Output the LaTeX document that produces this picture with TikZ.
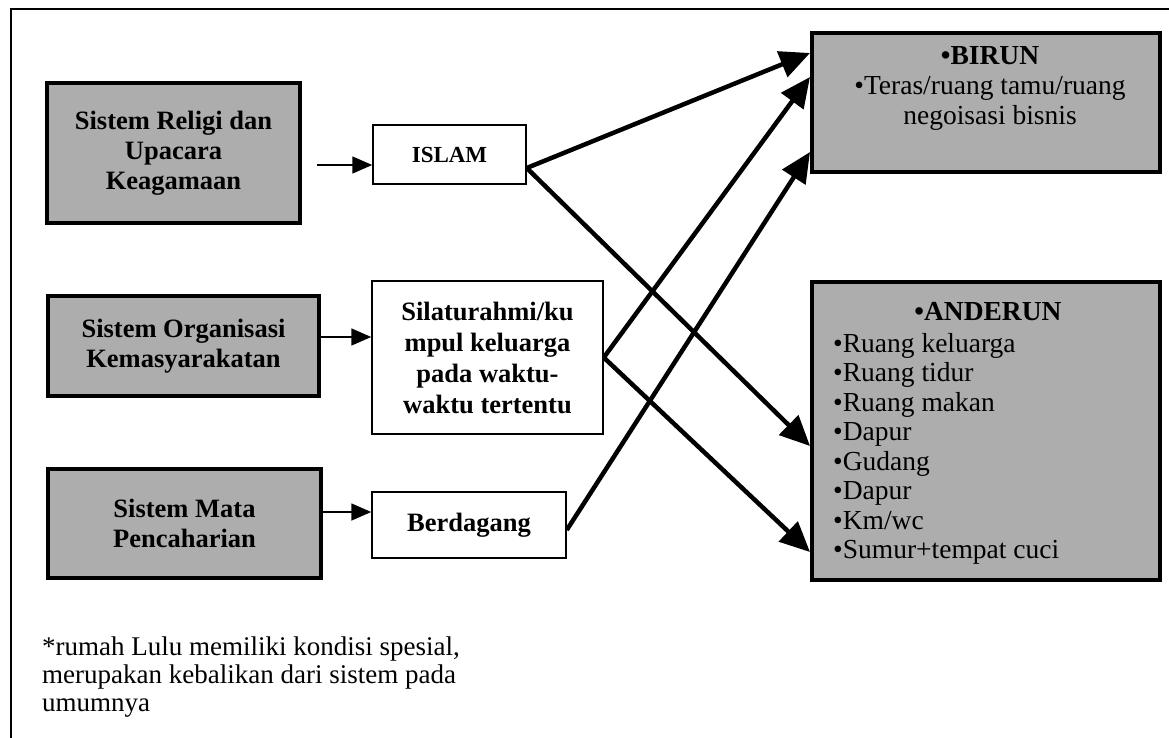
\documentclass[tikz,border=0pt]{standalone}
\usepackage{fontspec}
\setmainfont{Liberation Serif}
\usetikzlibrary{arrows.meta}
\begin{document}
\begin{tikzpicture}[x=1pt,y=-1pt,
    sistem/.style={draw,line width=4pt,fill=black!32,inner sep=0pt,align=center,font=\fontsize{26.5}{30}\selectfont\bfseries},
    nilai/.style={draw,line width=1.5pt,fill=white,inner sep=0pt,align=center,font=\fontsize{26.5}{31}\selectfont\bfseries},
    ruang/.style={draw,line width=4pt,fill=black!32,inner sep=0pt,minimum width=348},
    isi/.style={inner sep=0pt,font=\fontsize{27.5}{29.5}\selectfont},
    tipis/.style={line width=1.6pt,-{Triangle[length=20pt,width=17pt]}},
    tebal/.style={line width=4.5pt,-{Triangle[length=30pt,width=27pt]}}]
    \useasboundingbox (0,0) rectangle (1169,738);
    \draw[line width=2pt] (11,738) -- (11,9) -- (1169,9);
    % aspek budaya
    \node[sistem,minimum width=253,minimum height=140] (religi) at (173.5,153) {Sistem Religi dan\\Upacara\\Keagamaan};
    \node[sistem,minimum width=271,minimum height=100] (organisasi) at (183.5,346) {Sistem Organisasi\\Kemasyarakatan};
    \node[sistem,minimum width=273,minimum height=109] (mata) at (184.5,523.5) {Sistem Mata\\Pencaharian};
    % wujud
    \node[nilai,minimum width=153,minimum height=59,font=\fontsize{23}{28}\selectfont\bfseries] (islam) at (449.5,154.5) {ISLAM};
    \node[nilai,minimum width=231,minimum height=153] (silaturahmi) at (487.5,357.5) {Silaturahmi/ku\\mpul keluarga\\pada waktu-\\waktu tertentu};
    \node[nilai,minimum width=194,minimum height=66] (berdagang) at (469,525) {Berdagang};
    % ruang
    \node[ruang,minimum height=139] (birun) at (986,102.5) {};
    \node[isi,align=center,font=\fontsize{27.5}{30}\selectfont] (biruntext) at (990,88) {\textbf{•BIRUN}\\•Teras/ruang tamu/ruang\\negoisasi bisnis};
    \node[ruang,minimum height=298] (anderun) at (986,431) {};
    \node[isi,font=\fontsize{27.5}{30}\selectfont\bfseries] (anderunhead) at (988,312) {•ANDERUN};
    \node[isi,align=left,anchor=north west] (anderunlist) at (833,333) {•Ruang keluarga\\•Ruang tidur\\•Ruang makan\\•Dapur\\•Gudang\\•Dapur\\•Km/wc\\•Sumur+tempat cuci};
    \node[isi,align=left,anchor=north west,font=\fontsize{27}{28}\selectfont] (catatan) at (42,637) {*rumah Lulu memiliki kondisi spesial,\\merupakan kebalikan dari sistem pada\\umumnya};
    % panah
    \draw[tipis] ([xshift=15pt,yshift=-12pt]religi.east) -- ([yshift=-10.5pt]islam.west);
    \draw[tipis] ([yshift=9pt]organisasi.east) -- ([yshift=20.5pt]silaturahmi.west);
    \draw[tipis] ([yshift=11.5pt]mata.east) -- ([yshift=13pt]berdagang.west);
    \draw[tebal] ([yshift=-13.5pt]islam.east) -- ([yshift=49.5pt]birun.west);
    \draw[tebal] ([yshift=-13.5pt]islam.east) -- ([yshift=-15pt]anderun.west);
    \draw[tebal] (silaturahmi.east) -- ([yshift=25.5pt]birun.west);
    \draw[tebal] (silaturahmi.east) -- ([yshift=-121pt]anderun.west);
    \draw[tebal] ([yshift=-5pt]berdagang.east) -- ([yshift=-49.5pt]birun.west);
\end{tikzpicture}
\end{document}
